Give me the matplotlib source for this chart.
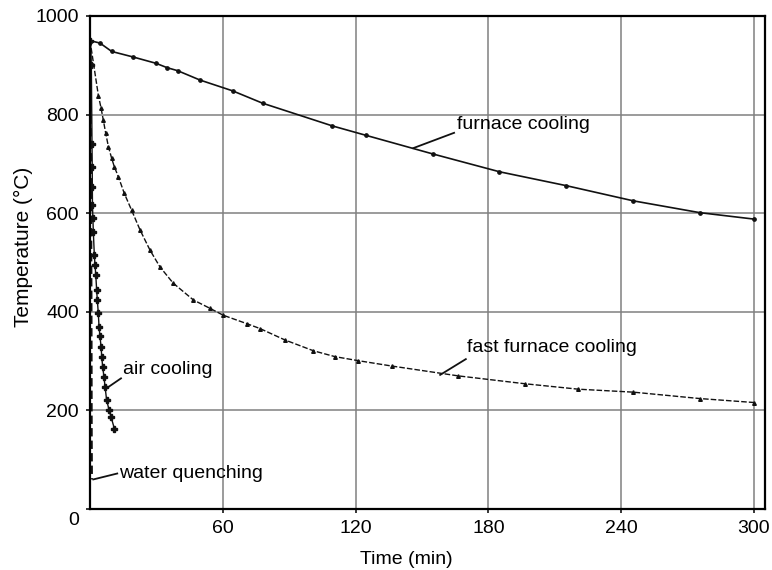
import matplotlib
matplotlib.use("Agg")
import matplotlib.pyplot as plt
import matplotlib.transforms as mtransforms

plt.rcParams["font.family"] = ["Liberation Sans", "DejaVu Sans"]

# furnace cooling
furnace_t = [0, 4.5, 9.8, 19.3, 29.8, 34.9, 39.6, 49.7, 64.5, 78, 109.5, 124.6,
             155, 185, 215, 245.5, 275.6, 300]
furnace_T = [950, 945, 928, 917, 904, 895, 889, 870, 848, 823, 777, 758,
             720, 684, 656, 625, 601, 588]

# fast furnace cooling
fast_t = [0, 3.8, 5.0, 6.0, 7.1, 8.3, 9.8, 11.0, 12.8, 15.5, 18.8, 22.6, 27.1,
          31.6, 37.6, 46.7, 54.2, 60.2, 70.8, 76.8, 88, 100.9, 110.7, 121,
          136.3, 166.4, 196.6, 220.7, 245.5, 275.6, 300]
fast_T = [950, 838, 813, 789, 762, 735, 711, 694, 674, 640, 606, 566, 525,
          491, 458, 424, 407, 393, 376, 366, 343, 321, 309, 301,
          290, 270, 254, 243, 237, 224, 216]

# air cooling
air_t = [0, 0.6, 0.9, 1.0, 1.05, 1.1, 1.3, 1.5, 1.95, 2.26, 2.6, 3.0, 3.3,
         3.75, 4.07, 4.5, 5.0, 5.3, 5.7, 6.3, 6.8, 7.5, 8.6, 9.5, 11.0]
air_T = [950, 900, 740, 694, 654, 617, 590, 562, 515, 495, 475, 444, 424,
         397, 370, 350, 329, 309, 289, 268, 248, 221, 201, 187, 163]

# water quenching
water_t = [0, 0.3, 0.5, 0.6, 0.7]
water_T = [950, 700, 400, 150, 60]

x_ticks = [60, 120, 180, 240, 300]
y_ticks = [0, 200, 400, 600, 800, 1000]

fig = plt.figure(figsize=(7.72, 5.70), dpi=100)
ax = fig.add_axes([0.1166, 0.107, 0.8744, 0.865])

ax.plot(furnace_t, furnace_T, color="#111111", lw=1.2, marker="o", ms=2.4)
ax.plot(fast_t, fast_T, color="#111111", lw=1.0, ls=(0, (4, 1.5)),
        marker="^", ms=2.6)
ax.plot(air_t, air_T, color="#111111", lw=1.0, marker="P", ms=5)
ax.plot(water_t, water_T, color="#111111", lw=2.0, ls=(0, (3, 1.5)))

ax.set_xlim(0, 305)
ax.set_ylim(0, 1000)
ax.set_xticks(x_ticks)
ax.set_yticks(y_ticks)
ax.grid(True, color="#808080", lw=1.1)
ax.set_axisbelow(True)
for s in ax.spines.values():
    s.set_linewidth(1.6)
ax.tick_params(direction="out", length=3, width=1.1, labelsize=14, pad=5)

# the "0" sits a bit below the corner
zero = ax.get_yticklabels()[0]
zero.set_transform(zero.get_transform() +
                   mtransforms.ScaledTranslation(0, -9 / 100, fig.dpi_scale_trans))

ax.set_xlabel("Time (min)", fontsize=14)
ax.xaxis.set_label_coords(0.468, -0.085)
ax.set_ylabel("Temperature (°C)", fontsize=15)
ax.yaxis.set_label_coords(-0.084, 0.531)

labels = [
    ("furnace cooling", (165.7, 779), (164.5, 763), (146.1, 732)),
    ("fast furnace cooling", (170.2, 327), (169.8, 304), (158.2, 272)),
    ("air cooling", (15.0, 282), (14.0, 265), (7.5, 245)),
    ("water quenching", (13.1, 72), (12.3, 72), (1.5, 60)),
]
for text, pos, a, b in labels:
    ax.text(pos[0], pos[1], text, fontsize=14, ha="left", va="center")
    ax.plot([a[0], b[0]], [a[1], b[1]], color="#111111", lw=1.3)

fig.savefig("out.png", dpi=100, facecolor="white")
